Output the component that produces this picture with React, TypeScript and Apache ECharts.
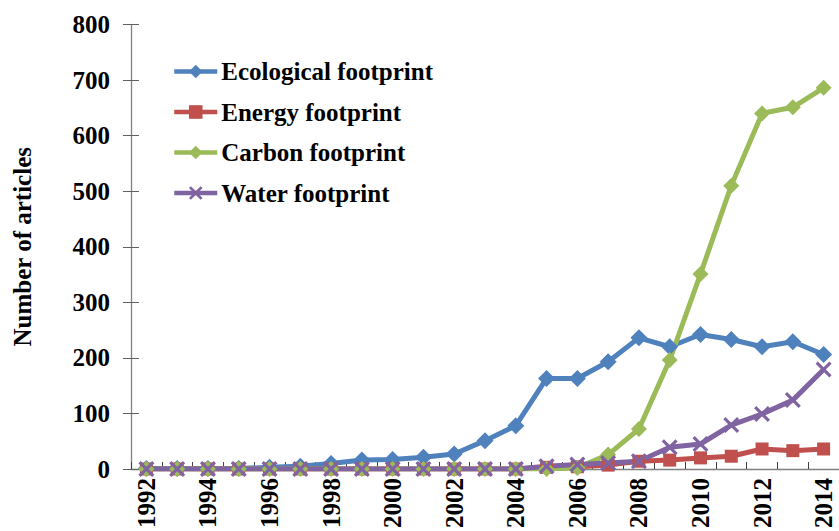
import React, { useEffect, useRef } from "react";
import * as echarts from "echarts";

const years = ["1992","1993","1994","1995","1996","1997","1998","1999","2000","2001","2002","2003","2004","2005","2006","2007","2008","2009","2010","2011","2012","2013","2014"];
const ecological = [1, 1, 1, 1, 3, 5, 10, 16, 17, 21, 27, 51, 78, 163, 163, 193, 236, 220, 242, 233, 220, 229, 206];
const energy = [0, 0, 0, 0, 0, 0, 0, 0, 0, 0, 0, 0, 0, 3, 4, 7, 14, 16, 20, 23, 36, 33, 36];
const carbon = [0, 0, 0, 0, 0, 0, 0, 0, 0, 0, 0, 0, 0, 0, 2, 26, 72, 196, 351, 510, 640, 651, 686];
const water = [0, 0, 0, 0, 0, 0, 0, 0, 0, 0, 0, 0, 0, 5, 8, 11, 14, 39, 45, 79, 99, 124, 179];
const seriesNames = ["Ecological footprint", "Energy footprint", "Carbon footprint", "Water footprint"];
const yTicks = { min: 0, max: 800, interval: 100 };

const FONT = "'Liberation Serif', 'Times New Roman', serif";
const X_SYMBOL = "path://M0,1.4L1.4,0L5,3.6L8.6,0L10,1.4L6.4,5L10,8.6L8.6,10L5,6.4L1.4,10L0,8.6L3.6,5Z";

export default function App() {
  const ref = useRef<HTMLDivElement>(null);
  useEffect(() => {
    if (!ref.current) return;
    const chart = echarts.init(ref.current, null, { renderer: "svg" });
    const mk = (name: string, data: number[], color: string, symbol: string, size: number) => ({
      name,
      type: "line",
      data,
      symbol,
      symbolSize: size,
      showSymbol: true,
      lineStyle: { color, width: 5 },
      itemStyle: { color },
      emphasis: { disabled: true },
    });
    chart.setOption({
      animation: false,
      backgroundColor: "#ffffff",
      textStyle: { fontFamily: FONT },
      grid: { left: 131, top: 24.5, height: 446.5, width: 715.3, containLabel: false },
      legend: {
        orient: "vertical",
        left: 172,
        top: 59,
        padding: 0,
        itemWidth: 43,
        itemHeight: 17,
        itemGap: 15.5,
        lineStyle: { width: 4.5 },
        textStyle: { fontFamily: FONT, fontWeight: "bold", fontSize: 25, color: "#000", lineHeight: 25, padding: [0, 0, 0, -1] },
        data: seriesNames,
      },
      xAxis: {
        type: "category",
        data: years,
        boundaryGap: true,
        axisLine: { lineStyle: { color: "#808080", width: 1.3 } },
        axisTick: { show: true, inside: true, length: 7, interval: 0, lineStyle: { color: "#404040" } },
        axisLabel: {
          interval: 1,
          rotate: 90,
          margin: 9,
          fontFamily: FONT,
          fontWeight: "bold",
          fontSize: 25,
          color: "#000",
        },
        splitLine: { show: false },
      },
      yAxis: [
        {
          type: "value",
          min: yTicks.min,
          max: yTicks.max,
          interval: yTicks.interval,
          name: "Number of articles",
          nameLocation: "middle",
          nameGap: 96,
          nameRotate: 90,
          nameTextStyle: { fontFamily: FONT, fontWeight: "bold", fontSize: 25, color: "#000" },
          axisLine: { show: true, lineStyle: { color: "#808080", width: 1.3 } },
          axisTick: { show: true, inside: false, length: 8, lineStyle: { color: "#606060" } },
          axisLabel: { margin: 21, fontFamily: FONT, fontWeight: "bold", fontSize: 25, color: "#000" },
          splitLine: { show: false },
        },
        {
          type: "value",
          min: yTicks.min,
          max: yTicks.max,
          interval: yTicks.interval,
          position: "left",
          axisLine: { show: false },
          axisTick: { show: true, inside: true, length: 8, lineStyle: { color: "#606060" } },
          axisLabel: { show: false },
          splitLine: { show: false },
        },
      ],
      series: [
        mk(seriesNames[0], ecological, "#4F81BD", "diamond", 17),
        mk(seriesNames[1], energy, "#C0504D", "rect", 13),
        mk(seriesNames[2], carbon, "#9BBB59", "diamond", 16),
        mk(seriesNames[3], water, "#8064A2", X_SYMBOL, 16),
      ],
    });
    return () => chart.dispose();
  }, []);
  return <div ref={ref} style={{ position: "absolute", left: 0, top: 0, width: 839, height: 531 }} />;
}
